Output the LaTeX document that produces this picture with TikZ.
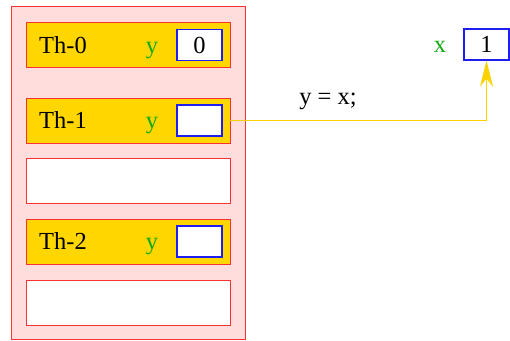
\documentclass[tikz,border=0pt]{standalone}
\usepackage{fontspec}
\setmainfont{Liberation Serif}
\usetikzlibrary{arrows.meta}
\definecolor{pinkfill}{RGB}{255,221,221}
\definecolor{redline}{RGB}{250,50,50}
\definecolor{goldfill}{RGB}{255,214,0}
\definecolor{blueline}{RGB}{30,30,240}
\definecolor{greentext}{RGB}{20,170,20}
\definecolor{wire}{RGB}{250,210,0}
\tikzset{
  outerbox/.style={draw=redline, fill=pinkfill, line width=1pt},
  threadbox/.style={draw=redline, fill=goldfill, line width=1.2pt, minimum width=204.5pt, minimum height=45pt, inner sep=0pt, anchor=north west},
  emptybox/.style={draw=redline, fill=white, line width=1.2pt, minimum width=204.5pt, minimum height=45pt, inner sep=0pt, anchor=north west},
  valbox/.style={draw=blueline, fill=white, line width=1.2pt, minimum width=45pt, minimum height=31pt, inner sep=0pt},
  lbl/.style={inner sep=0pt, font=\fontsize{24.5}{28}\selectfont},
  varlbl/.style={lbl, text=greentext},
  wirestyle/.style={draw=wire, line width=1.2pt}
}
\begin{document}
\begin{tikzpicture}[x=1pt,y=-1pt]
\useasboundingbox (0,0) rectangle (510,340);
% outer container
\node[outerbox, inner sep=0pt, minimum width=234.5pt, minimum height=333pt, anchor=north west] (mem) at (10.5,6) {};
% thread boxes
\node[threadbox] (th0) at (25.5,22) {};
\node[threadbox] (th1) at (25.5,98) {};
\node[emptybox] (e1) at (25.5,158) {};
\node[threadbox] (th2) at (25.5,219) {};
\node[emptybox] (e2) at (25.5,279.5) {};
% thread labels
\node[lbl, anchor=base west] (t0) at (39,53) {Th-0};
\node[lbl, anchor=base west] (t1) at (39,128.5) {Th-1};
\node[lbl, anchor=base west] (t2) at (39,249.5) {Th-2};
% y labels
\node[varlbl, anchor=base] (y0) at (152,53) {y};
\node[varlbl, anchor=base] (y1) at (152,128.5) {y};
\node[varlbl, anchor=base] (y2) at (152,249.5) {y};
% value boxes
\node[valbox] (v0) at (199.5,45) {};
\node[lbl, anchor=base] (n0) at (199.5,53) {0};
\node[valbox] (v1) at (199.5,120.5) {};
\node[valbox] (v2) at (199.5,241.5) {};
% x variable
\node[varlbl, anchor=base] (xl) at (440,52.5) {x};
\node[valbox] (xv) at (486.5,44.5) {};
\node[lbl, anchor=base] (n1) at (486.5,52.5) {1};
% statement
\node[lbl, anchor=base] (stmt) at (328,104) {y = x;};
% connector
\draw[wirestyle, -{Stealth[length=26pt,width=13pt,inset=8pt]}] (v1.east) -| (xv.south);
\end{tikzpicture}
\end{document}
